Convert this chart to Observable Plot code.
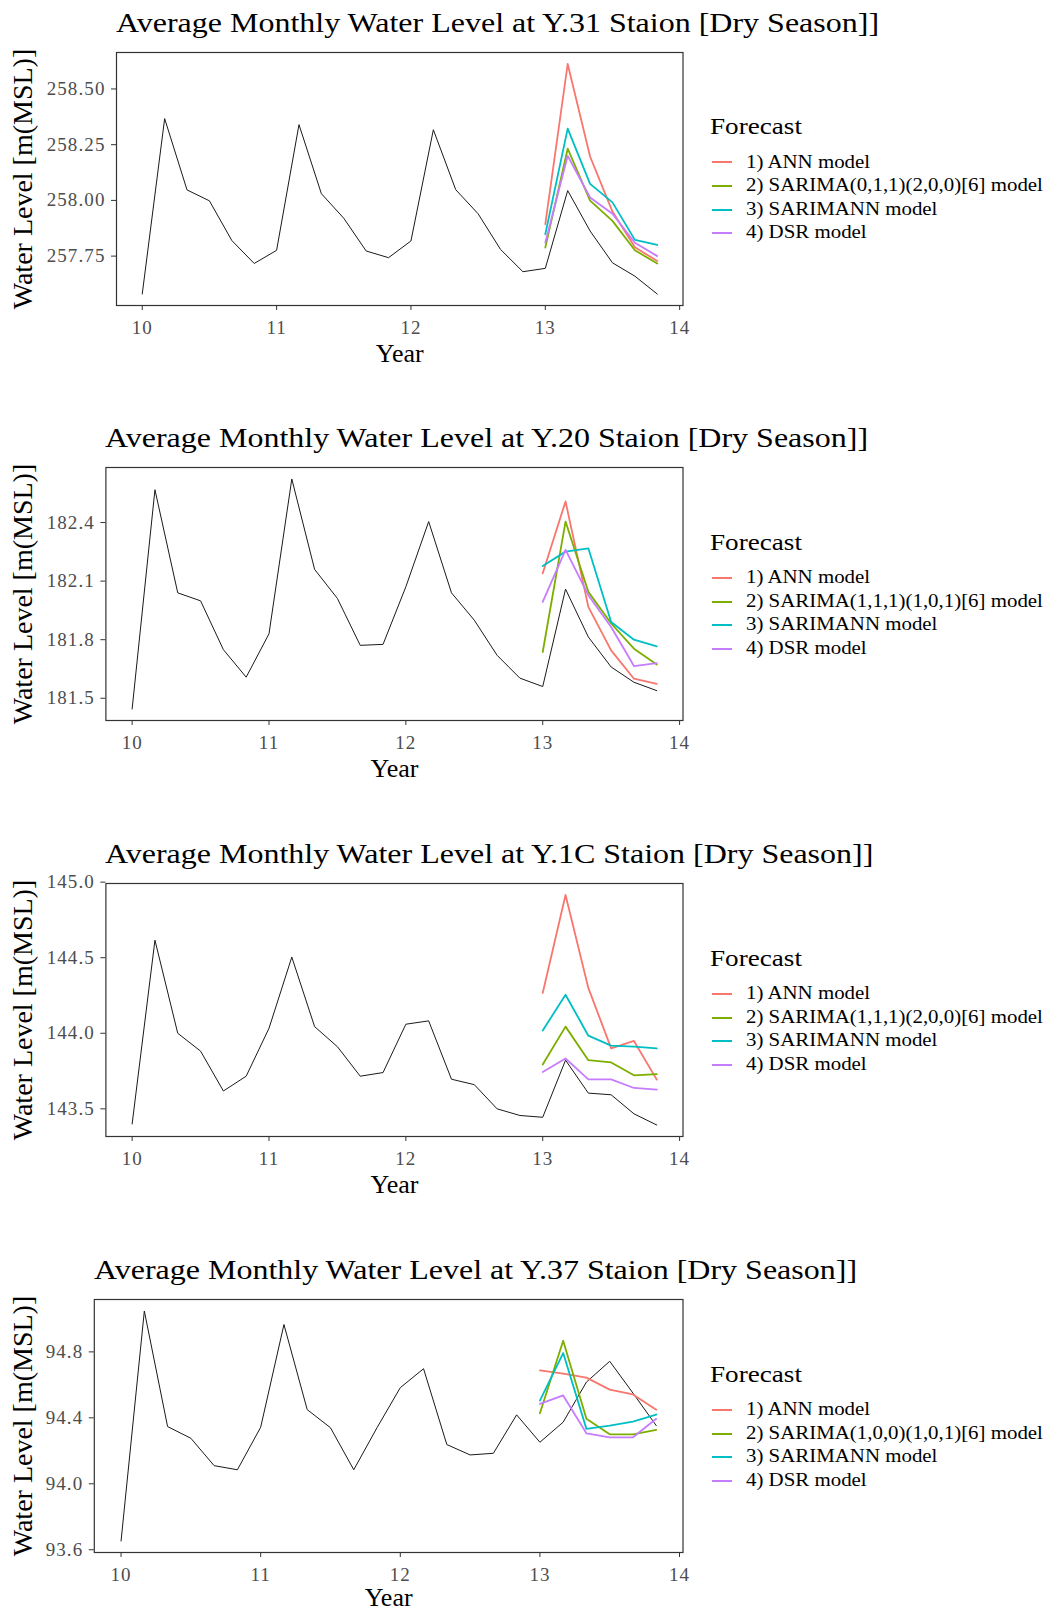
<!DOCTYPE html>
<html>
<head>
<meta charset="utf-8">
<script src="https://cdn.jsdelivr.net/npm/d3@7"></script>
<script src="https://cdn.jsdelivr.net/npm/@observablehq/plot@0.6"></script>
<style>
  html, body { margin: 0; padding: 0; background: #fff; }
  #wrap { position: relative; width: 1047px; height: 1611px; background: #fff; overflow: hidden;
          font-family: "Liberation Serif", "Times New Roman", serif; }
  .title { position: absolute; white-space: nowrap; font-size: 27px; line-height: 32px; color: #000;
           transform: scaleX(1.185); transform-origin: left center; }
  .legend { position: absolute; left: 710px; }
  .ltitle { position: absolute; left: 0; white-space: nowrap; font-size: 23px; line-height: 28px; color: #000;
            transform: scaleX(1.18); transform-origin: left center; }
  .lrow { position: absolute; left: 0; height: 23.6px; white-space: nowrap; }
  .lkey { position: absolute; left: 2px; top: 10.8px; width: 20px; height: 2px; }
  .ltext { position: absolute; left: 36px; top: 0; font-size: 18px; line-height: 23.6px; color: #000;
           transform: scaleX(1.16); transform-origin: left center; }
  svg g[aria-label="y-axis tick label"] text { letter-spacing: 1.1px; }
  svg g[aria-label="x-axis tick label"] text { letter-spacing: 1px; }
  .plotsvg { position: absolute; left: 0; }
</style>
</head>
<body>
<div id="wrap"></div>
<script>
// ---- time index (years, 6 dry-season months per year) ----
const timeObs = [10, 10.1667, 10.3333, 10.5, 10.6667, 10.8333,
                 11, 11.1667, 11.3333, 11.5, 11.6667, 11.8333,
                 12, 12.1667, 12.3333, 12.5, 12.6667, 12.8333,
                 13, 13.1667, 13.3333, 13.5, 13.6667, 13.8333];
const timeFc = [13, 13.1667, 13.3333, 13.5, 13.6667, 13.8333];
const xTicks = [10, 11, 12, 13, 14];

const modelNames = ["ann", "sarima", "sarimann", "dsr"];
const modelColors = ["#F8766D", "#7CAE00", "#00BFC4", "#C77CFF"];

// ---- Y.31 ----
const y31Obs = [257.58, 258.367, 258.047, 257.998, 257.82, 257.717, 257.776, 258.34, 258.03, 257.92, 257.773, 257.743,
                257.818, 258.317, 258.048, 257.94, 257.78, 257.68, 257.695, 258.044, 257.863, 257.72, 257.66, 257.58];
const y31Ann = [257.893, 258.612, 258.197, 257.95, 257.79, 257.728];
const y31Sarima = [257.788, 258.232, 257.999, 257.908, 257.776, 257.717];
const y31Sarimann = [257.848, 258.322, 258.074, 257.991, 257.823, 257.80];
const y31Dsr = [257.81, 258.20, 258.013, 257.94, 257.81, 257.75];
const y31Ticks = [257.75, 258.00, 258.25, 258.50];

// ---- Y.20 ----
const y20Obs = [181.445, 182.568, 182.04, 181.999, 181.749, 181.608, 181.83, 182.623, 182.16, 182.011, 181.771, 181.776,
                182.071, 182.405, 182.04, 181.90, 181.72, 181.603, 181.56, 182.059, 181.814, 181.66, 181.582, 181.539];
const y20Ann = [182.14, 182.508, 181.968, 181.745, 181.60, 181.574];
const y20Sarima = [181.737, 182.405, 182.045, 181.883, 181.754, 181.673];
const y20Sarimann = [182.177, 182.251, 182.268, 181.891, 181.80, 181.766];
const y20Dsr = [181.994, 182.26, 182.028, 181.865, 181.665, 181.68];
const y20Ticks = [181.5, 181.8, 182.1, 182.4];

// ---- Y.1C ----
const y1cObs = [143.40, 144.616, 144.0, 143.882, 143.618, 143.716, 144.033, 144.504, 144.044, 143.911, 143.716, 143.74,
                144.06, 144.082, 143.696, 143.66, 143.50, 143.456, 143.444, 143.822, 143.604, 143.593, 143.467, 143.393];
const y1cAnn = [144.267, 144.915, 144.30, 143.90, 143.949, 143.693];
const y1cSarima = [143.793, 144.044, 143.822, 143.807, 143.722, 143.729];
const y1cSarimann = [144.018, 144.255, 143.984, 143.918, 143.911, 143.90];
const y1cDsr = [143.744, 143.833, 143.695, 143.695, 143.638, 143.627];
const y1cTicks = [143.5, 144.0, 144.5, 145.0];

// ---- Y.37 ----
const y37Obs = [93.653, 95.048, 94.347, 94.276, 94.11, 94.085, 94.343, 94.966, 94.45, 94.34, 94.085, 94.34,
                94.583, 94.698, 94.238, 94.175, 94.185, 94.418, 94.252, 94.374, 94.617, 94.743, 94.55, 94.353];
const y37Ann = [94.688, 94.668, 94.644, 94.571, 94.542, 94.449];
const y37Sarima = [94.428, 94.867, 94.394, 94.30, 94.30, 94.327];
const y37Sarimann = [94.505, 94.793, 94.333, 94.353, 94.377, 94.42];
const y37Dsr = [94.485, 94.536, 94.306, 94.282, 94.282, 94.394];
const y37Ticks = [93.6, 94.0, 94.4, 94.8];

const titles = [
  "Average Monthly Water Level at Y.31 Staion [Dry Season]]",
  "Average Monthly Water Level at Y.20 Staion [Dry Season]]",
  "Average Monthly Water Level at Y.1C Staion [Dry Season]]",
  "Average Monthly Water Level at Y.37 Staion [Dry Season]]"
];
const legendTitle = "Forecast";
const legendLabels = [
  ["1) ANN model", "2) SARIMA(0,1,1)(2,0,0)[6] model", "3) SARIMANN model", "4) DSR model"],
  ["1) ANN model", "2) SARIMA(1,1,1)(1,0,1)[6] model", "3) SARIMANN model", "4) DSR model"],
  ["1) ANN model", "2) SARIMA(1,1,1)(2,0,0)[6] model", "3) SARIMANN model", "4) DSR model"],
  ["1) ANN model", "2) SARIMA(1,0,0)(1,0,1)[6] model", "3) SARIMANN model", "4) DSR model"]
];
const xLabel = "Year";
const yLabel = "Water Level [m(MSL)]";

// ---- layout ----
const panels = [
  {obs: y31Obs, fc: [y31Ann, y31Sarima, y31Sarimann, y31Dsr], ticks: y31Ticks, fmt: ".2f", top: 51.7, left: 116},
  {obs: y20Obs, fc: [y20Ann, y20Sarima, y20Sarimann, y20Dsr], ticks: y20Ticks, fmt: ".1f", top: 467.3, left: 105.4},
  {obs: y1cObs, fc: [y1cAnn, y1cSarima, y1cSarimann, y1cDsr], ticks: y1cTicks, fmt: ".1f", top: 883.3, left: 105.4},
  {obs: y37Obs, fc: [y37Ann, y37Sarima, y37Sarimann, y37Dsr], ticks: y37Ticks, fmt: ".1f", top: 1299.3, left: 93.8}
];

const wrap = document.getElementById("wrap");
const W = 700, panelRight = 682.5, mTop = 10, plotH = 253, mBottom = 56;

panels.forEach((p, k) => {
  const obs = p.obs.map((v, i) => ({t: timeObs[i], v}));
  const fc = modelNames.flatMap((m, j) => p.fc[j].map((v, i) => ({t: timeFc[i], v, model: m})));
  const all = p.obs.concat(...p.fc);
  const lo = d3.min(all), hi = d3.max(all), pad = (hi - lo) * 0.05;
  const t0 = d3.min(timeObs), t1 = d3.max(timeObs), tp = (t1 - t0) * 0.05;
  const yearDy = k === panels.length - 1 ? 45 : 48;

  const svg = Plot.plot({
    width: W,
    height: mTop + plotH + mBottom,
    marginTop: mTop,
    marginBottom: mBottom,
    marginLeft: p.left,
    marginRight: W - panelRight,
    style: {fontFamily: "Liberation Serif, Times New Roman, serif", background: "white", overflow: "visible"},
    x: {domain: [t0 - tp, t1 + tp]},
    y: {domain: [lo - pad, hi + pad]},
    color: {domain: modelNames, range: modelColors},
    marks: [
      Plot.axisX({ticks: xTicks, tickFormat: d => String(d), tickSize: 5, tickPadding: 10, fontSize: 19,
                  stroke: "#333333", fill: "#4D4D4D", label: null}),
      Plot.axisY({ticks: p.ticks, tickFormat: d3.format(p.fmt), tickSize: 5, tickPadding: 6, fontSize: 19,
                  stroke: "#333333", fill: "#4D4D4D", label: null}),
      Plot.lineY(obs, {x: "t", y: "v", stroke: "#1a1a1a", strokeWidth: 1}),
      Plot.line(fc, {x: "t", y: "v", z: "model", stroke: "model", strokeWidth: 1.8}),
      Plot.frame({stroke: "#333333", strokeWidth: 1.2}),
      Plot.text([xLabel], {text: d => d, frameAnchor: "bottom", dy: yearDy, lineAnchor: "middle",
                           textAnchor: "middle", fontSize: 26, fill: "#000"}),
      Plot.text([yLabel], {text: d => d, frameAnchor: "left", dx: 22.6 - p.left, rotate: -90,
                           textAnchor: "middle", lineAnchor: "middle", fontSize: 28, fill: "#000"})
    ]
  });
  svg.classList.add("plotsvg");
  svg.style.top = (p.top - mTop) + "px";
  wrap.appendChild(svg);

  // title
  const t = document.createElement("div");
  t.className = "title";
  t.textContent = titles[k];
  t.style.left = p.left + "px";
  t.style.top = (p.top - 29.2 - 16) + "px";
  wrap.appendChild(t);

  // legend
  const c = p.top + plotH / 2;
  const lg = document.createElement("div");
  lg.className = "legend";
  lg.style.top = c + "px";
  const lt = document.createElement("div");
  lt.className = "ltitle";
  lt.textContent = legendTitle;
  lt.style.top = (-51 - 14) + "px";
  lg.appendChild(lt);
  legendLabels[k].forEach((lab, j) => {
    const row = document.createElement("div");
    row.className = "lrow";
    row.style.top = (-15.8 - 11.8 + j * 23.6) + "px";
    const key = document.createElement("div");
    key.className = "lkey";
    key.style.background = modelColors[j];
    const tx = document.createElement("div");
    tx.className = "ltext";
    tx.textContent = lab;
    row.appendChild(key);
    row.appendChild(tx);
    lg.appendChild(row);
  });
  wrap.appendChild(lg);
});
</script>
</body>
</html>
